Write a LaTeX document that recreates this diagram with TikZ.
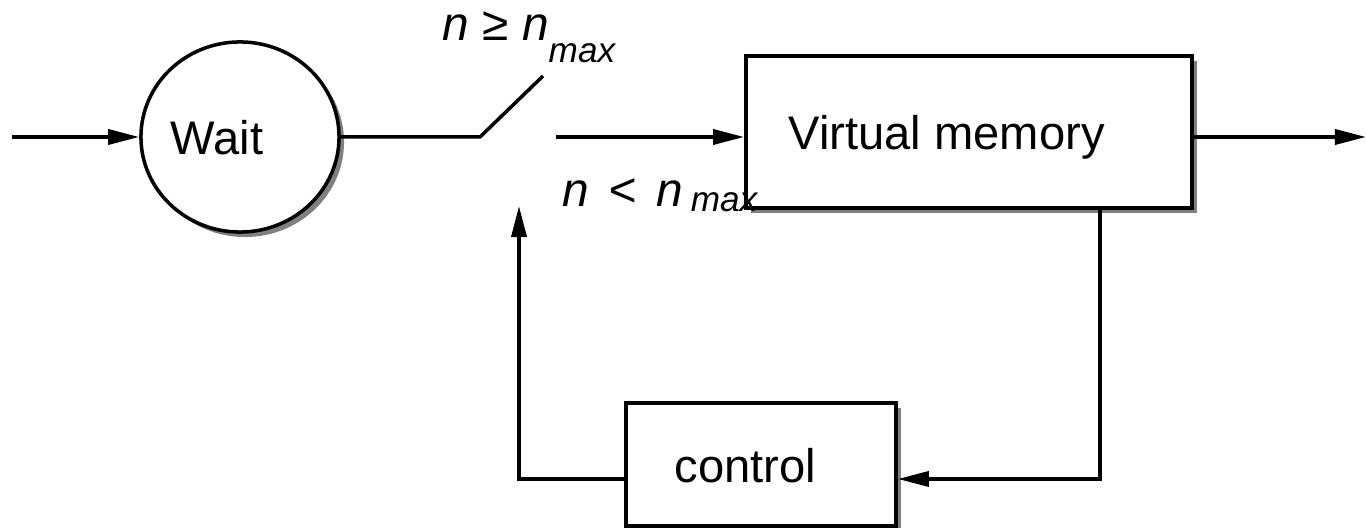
\documentclass[tikz,border=0pt]{standalone}
\usepackage{fontspec}
\setmainfont{Liberation Sans}
\usetikzlibrary{arrows.meta,shapes.geometric,shadows}
\tikzset{
  block shadow/.style={
    drop shadow={shadow xshift=0.05cm, shadow yshift=-0.05cm,
      fill=black!50, opacity=1},
  },
  state/.style={
    ellipse, draw, fill=white, line width=1pt,
    minimum width=1.98cm, minimum height=1.9cm,
    block shadow,
  },
  block/.style={
    rectangle, draw, fill=white, line width=1pt,
    block shadow,
  },
  block text/.style={
    inner sep=0pt, anchor=base west,
    font=\fontsize{13.4pt}{16pt}\selectfont,
  },
  cond text/.style={
    block text,
    font=\fontsize{13.6pt}{16pt}\selectfont\itshape,
  },
  wire/.style={line width=1pt},
  flow/.style={wire, -{Triangle[length=0.31cm,width=0.15cm]}},
}
\newcommand{\subtext}[2]{\raisebox{#1}{\fontsize{10pt}{11pt}\selectfont #2}}

\begin{document}
\begin{tikzpicture}[
  x=0.01cm, y=-0.01cm,
]
\useasboundingbox (0,0) rectangle (1366,528);

% blocks
\node [state] (wait) at (240,137) {};
\node [block, minimum width=4.46cm, minimum height=1.52cm] (vm) at (969,132) {};
\node [block, minimum width=2.70cm, minimum height=1.23cm] (ctrl) at (761,464.5) {};

\node [block text] (waittxt) at (170,155) {Wait};
\node [block text] (vmtxt) at (788,150) {Virtual memory};
\node [block text] (ctrltxt) at (674,483) {control};

% switch conditions
\node [cond text] (closed) at (442,41) {n ≥ n\subtext{-0.21cm}{max}};
\node [cond text] (open) at (562,207)
  {n\hspace{0.19cm}<\hspace{0.2cm}n\hspace{0.08cm}\subtext{-0.05cm}{max}};

% free ends
\coordinate (inpt) at (12,137);
\coordinate (outpt) at (1366,137);
\coordinate (swpivot) at (480,137);
\coordinate (swblade) at (543,76);
\coordinate (swout) at (556,137);
\coordinate (fbturn) at (1100,479);
\coordinate (fbleft) at (519,479);
\coordinate (fbtip) at (519,206);

% forward path
\draw [flow] (inpt) -- (wait.west);
\draw [wire] (wait.east) -- (swpivot) -- (swblade);
\draw [flow] (swout) -- (swout -| vm.west);
\draw [flow] (vm.east |- outpt) -- (outpt);

% feedback path
\draw [flow] (vm.south -| fbturn) -- (fbturn) -- (ctrl.east |- fbturn);
\draw [flow] (ctrl.west |- fbleft) -- (fbleft) -- (fbtip);
\end{tikzpicture}
\end{document}
